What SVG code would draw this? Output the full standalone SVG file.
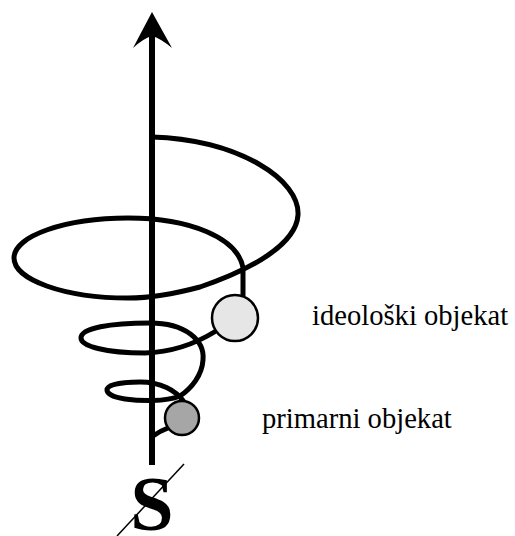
<svg xmlns="http://www.w3.org/2000/svg" width="515" height="536" viewBox="0 0 515 536">
<style>
.sp{fill:none;stroke:#000;stroke-width:5;stroke-linecap:butt;stroke-linejoin:round}
.obj{stroke:#000;stroke-width:2.5}
.lbl{font-family:'Liberation Serif','Times New Roman',serif;font-size:28.6px;fill:#000}
.big{font-family:'Liberation Serif','Times New Roman',serif;font-size:78px;font-weight:bold;fill:#000}
</style>
<rect width="515" height="536" fill="#fff"/>
<g id="connectors">
<path id="axis" d="M152,465 L152,30" fill="none" stroke="#000" stroke-width="6"/>
<path id="arrowhead" d="M152,12 L172,48 Q160,38 152,36 Q144,38 133,48 Z" fill="#000"/>
<path id="spiral-upper" class="sp" d="M152,137 C240,140 300,180 298,215 C296,245 250,270 200,287 C170,295 150,298 128,298 C65,298 14,280 14,258 C14,236 65,218 128,218 C190,218 238,238 243,268 L243,296"/>
<path id="spiral-middle" class="sp" d="M216,331 C200,341 175,352 145,353 C105,353 81,346 81,338 C81,328 110,323 150,323 C185,323 205,340 203,360 C202,375 192,388 180,396 C165,402 140,401 125,399 C112,397 107,393 107,390 C107,385 120,382 140,382 C160,382 176,390 184,402"/>
<path id="spiral-tail" class="sp" d="M168,428 Q160,431 153,436"/>
</g>
<g id="ideoloski-objekat">
<circle class="obj" cx="235" cy="318" r="23" fill="#e6e6e6"/>
<text class="lbl" x="312" y="325">ideološki objekat</text>
</g>
<g id="primarni-objekat">
<circle class="obj" cx="182" cy="418" r="17" fill="#a6a6a6"/>
<text class="lbl" x="262" y="428">primarni objekat</text>
</g>
<g id="subject">
<text class="big" x="152" y="530" text-anchor="middle">S</text>
<line x1="184" y1="464" x2="117" y2="536" stroke="#000" stroke-width="1.5"/>
</g>
</svg>
